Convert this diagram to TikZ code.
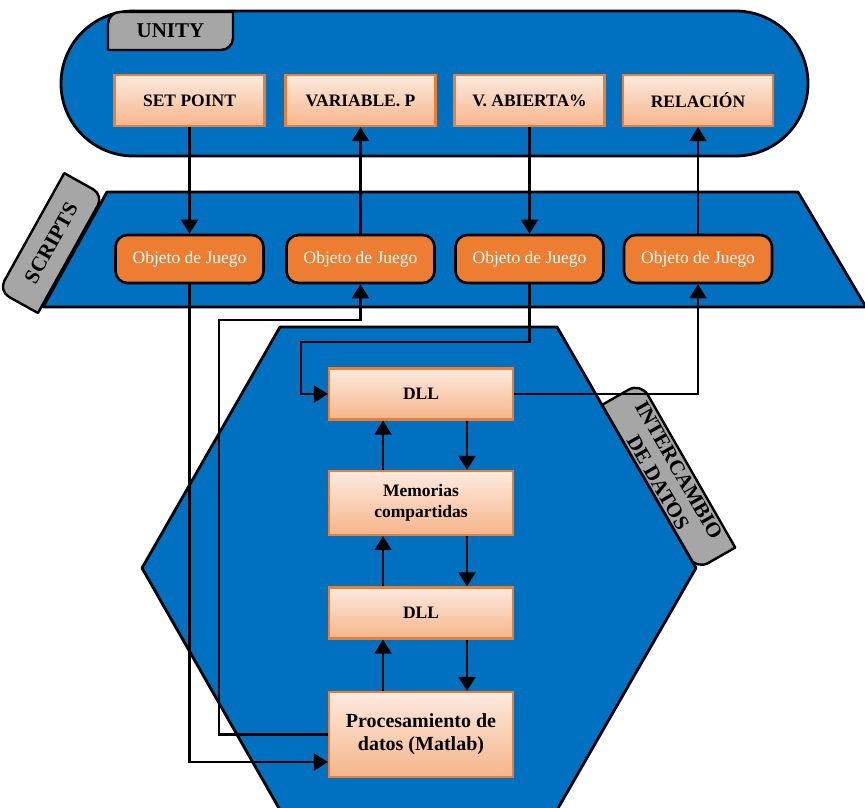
\documentclass[tikz,border=0pt]{standalone}
\usepackage{fontspec}
\setmainfont{Liberation Serif}
\usetikzlibrary{arrows.meta,calc}
\definecolor{bgblue}{HTML}{0070C0}
\definecolor{accorange}{HTML}{ED7D31}
\definecolor{peachtop}{HTML}{FDEADF}
\definecolor{peachbot}{HTML}{F5B58A}
\definecolor{tabgray}{HTML}{A6A6A6}
\begin{document}
\begin{tikzpicture}[x=1pt,y=1pt,
  region/.style={draw=black,line width=2.8pt,fill=bgblue,line join=round},
  tabst/.style={draw=black,line width=2.4pt,fill=tabgray,line join=round},
  tabtxt/.style={font=\fontsize{21}{24}\selectfont\bfseries,align=center,inner sep=0pt},
  ubox/.style={draw=accorange,line width=2.2pt,top color=peachtop,bottom color=peachbot,
    minimum width=150pt,minimum height=51pt,inner sep=0pt,align=center,
    font=\fontsize{17.5}{21}\selectfont\bfseries,text=black},
  ibox/.style={ubox,minimum width=184pt},
  obj/.style={draw=black,line width=2.6pt,fill=accorange,rounded corners=12pt,
    minimum width=148pt,minimum height=48pt,inner sep=0pt,text=white,
    font=\fontsize{17.5}{21}\selectfont},
  conn/.style={draw=black,line width=2.1pt,-{Triangle[length=14pt,width=17pt]}}
]
\useasboundingbox (0,0) rectangle (865,-807);

% UNITY region
\draw[region,rounded corners=72.5pt] (61,-11) rectangle (808,-156);
\begin{scope}[shift={(170.5,-31)}]
  \draw[tabst] (-62.5,-19) -- (-62.5,7) arc[start angle=180,end angle=90,radius=12]
     -- (62.5,19) -- (62.5,-7) arc[start angle=0,end angle=-90,radius=12] -- cycle;
\end{scope}
\node[tabtxt] (unitylbl) at (170.5,-31) {UNITY};

% SCRIPTS region
\draw[region] (107,-192) -- (798,-192) -- (866,-307) -- (43,-307) -- cycle;
\begin{scope}[shift={(51.1,-243.1)},rotate=60.9]
  \draw[tabst] (-67.5,-22.5) -- (-67.5,10.5) arc[start angle=180,end angle=90,radius=12]
     -- (67.5,22.5) -- (67.5,-10.5) arc[start angle=0,end angle=-90,radius=12] -- cycle;
\end{scope}
\node[tabtxt,rotate=60.9] (scriptslbl) at (51.1,-243.1) {SCRIPTS};

% INTERCAMBIO tab and hexagon
\begin{scope}[shift={(668.5,-476.3)},rotate=-60.2]
  \draw[tabst] (-95,-22.5) -- (-95,8.5) arc[start angle=180,end angle=90,radius=14]
     -- (95,22.5) -- (95,-8.5) arc[start angle=0,end angle=-90,radius=14] -- cycle;
\end{scope}
\node[tabtxt,rotate=-60.2] (intlbl) at (668.5,-476.3) {INTERCAMBIO\\DE DATOS};
\draw[region] (280,-327) -- (557,-327) -- (696,-568) -- (557,-810) -- (280,-810) -- (142,-568) -- cycle;

% UNITY boxes
\node[ubox] (sp)  at (189.5,-100.5) {SET POINT};
\node[ubox] (vp)  at (360.5,-100.5) {VARIABLE. P};
\node[ubox] (va)  at (529.5,-100.5) {V. ABIERTA\%};
\node[ubox] (rel) at (698,-100.5) {RELACIÓN};

% Game objects
\node[obj] (o1) at (189.5,-259) {Objeto de Juego};
\node[obj] (o2) at (360.5,-259) {Objeto de Juego};
\node[obj] (o3) at (529.5,-259) {Objeto de Juego};
\node[obj] (o4) at (698,-259) {Objeto de Juego};

% Data exchange boxes
\node[ibox] (dll1) at (421,-394) {DLL};
\node[ibox,minimum height=64pt] (mem) at (421,-503) {Memorias\\compartidas};
\node[ibox] (dll2) at (421,-613) {DLL};
\node[ibox,minimum height=85pt,font=\fontsize{20}{23}\selectfont\bfseries] (proc) at (421,-734.5) {Procesamiento de\\datos (Matlab)};

% UNITY <-> scripts
\draw[conn] (sp.south) -- (o1.north);
\draw[conn] (o2.north) -- (vp.south);
\draw[conn] (va.south) -- (o3.north);
\draw[conn] (o4.north) -- (rel.south);

% scripts <-> data exchange
\draw[conn] (o1.south) |- ([yshift=-27.5pt]proc.west);
\draw[conn] (proc.west) -| (219,-320) -| (o2.south);
\draw[conn] (o3.south) |- (301,-342) |- (dll1.west);
\draw[conn] (dll1.east) -| (o4.south);

% internal chain
\draw[conn] ([xshift=-38pt]mem.north) -- ([xshift=-38pt]dll1.south);
\draw[conn] ([xshift=46pt]dll1.south) -- ([xshift=46pt]mem.north);
\draw[conn] ([xshift=-38pt]dll2.north) -- ([xshift=-38pt]mem.south);
\draw[conn] ([xshift=46pt]mem.south) -- ([xshift=46pt]dll2.north);
\draw[conn] ([xshift=-38pt]proc.north) -- ([xshift=-38pt]dll2.south);
\draw[conn] ([xshift=46pt]dll2.south) -- ([xshift=46pt]proc.north);
\end{tikzpicture}
\end{document}
